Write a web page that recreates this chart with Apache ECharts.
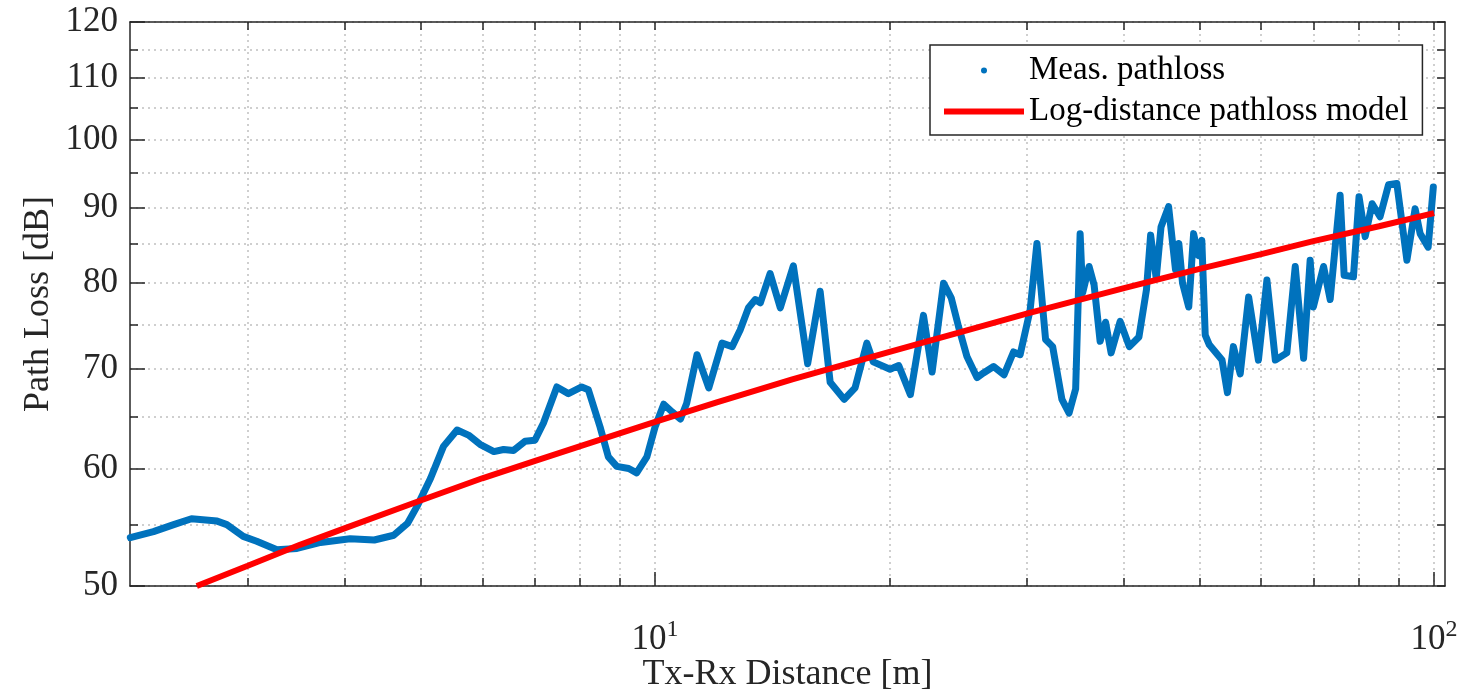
<!DOCTYPE html>
<html>
<head>
<meta charset="utf-8">
<script src="https://cdn.jsdelivr.net/npm/echarts@6/dist/echarts.min.js"></script>
<style>
html,body{margin:0;padding:0;background:#fff;}
#chart{width:1473px;height:692px;}
</style>
</head>
<body>
<div id="chart"></div>
<script>
// ---- data ----
const measDistance = [2.12, 2.27, 2.41, 2.54, 2.74, 2.82, 2.96, 3.08, 3.27, 3.47, 3.72, 4.06, 4.36, 4.62, 4.81, 4.95, 5.15, 5.35, 5.57, 5.76,
  5.96, 6.21, 6.39, 6.58, 6.81, 7.01, 7.19, 7.48, 7.74, 8.05, 8.21, 8.50, 8.71, 8.93, 9.25, 9.47, 9.76, 10.0, 10.26, 10.52,
  10.78, 10.98, 11.32, 11.72, 12.19, 12.56, 12.86, 13.18, 13.45, 13.65, 14.05, 14.48, 15.05, 15.70, 16.29, 16.78, 17.49, 18.06, 18.70, 19.06,
  20.03, 20.55, 21.27, 22.11, 22.68, 23.46, 24.0, 24.52, 25.14, 25.90, 26.40, 27.20, 28.05, 28.85, 29.42, 30.30, 30.92, 31.72, 32.39, 33.29,
  34.0, 34.67, 35.13, 35.39, 36.07, 36.61, 37.27, 37.87, 38.50, 39.54, 40.63, 41.80, 42.74, 43.27, 43.99, 44.62, 45.63, 46.57, 47.03, 47.55,
  48.43, 49.13, 49.83, 50.34, 50.85, 51.47, 53.44, 54.30, 55.26, 56.39, 57.81, 59.51, 61.02, 62.56, 64.72, 66.35, 68.01, 69.34, 70.0, 72.14,
  73.57, 75.76, 76.67, 78.81, 80.12, 81.59, 83.29, 85.26, 87.41, 89.59, 92.30, 94.56, 95.98, 98.28, 99.80];
const measLoss = [53.9, 54.4, 55.0, 55.5, 55.3, 55.0, 54.0, 53.6, 52.9, 53.0, 53.5, 53.8, 53.7, 54.1, 55.1, 56.6, 59.1, 62.1, 63.7, 63.2,
  62.3, 61.6, 61.8, 61.7, 62.6, 62.7, 64.4, 68.1, 67.4, 68.1, 67.8, 64.0, 61.1, 60.2, 60.0, 59.6, 61.1, 64.0, 66.3, 65.5,
  64.8, 66.4, 71.6, 68.0, 72.9, 72.5, 74.4, 77.0, 78.0, 77.6, 81.2, 77.0, 82.2, 70.6, 79.0, 68.6, 66.8, 68.0, 72.9, 70.8,
  70.0, 70.4, 67.3, 76.1, 69.7, 80.0, 78.2, 74.8, 71.4, 69.1, 69.6, 70.3, 69.4, 71.9, 71.6, 76.7, 85.1, 73.3, 72.5, 66.8,
  65.4, 67.9, 86.4, 78.8, 82.1, 79.8, 73.1, 75.3, 71.8, 75.4, 72.5, 73.6, 79.2, 86.2, 80.6, 87.3, 90.1, 81.7, 85.1, 80.0,
  77.1, 86.4, 83.5, 85.5, 73.8, 72.7, 71.0, 67.5, 72.5, 69.5, 78.3, 71.0, 80.4, 71.0, 71.8, 82.1, 71.2, 82.9, 77.1, 82.1,
  78.0, 91.7, 81.0, 80.8, 91.5, 86.0, 90.5, 88.7, 93.2, 93.4, 82.9, 89.8, 86.4, 84.6, 92.9];
const modelDistance = [2.58, 3, 3.5, 4, 5, 6, 7, 8, 10, 12, 15, 20, 25, 30, 40, 50, 60, 70, 85, 100];
const modelLoss = [50.0, 51.6, 53.3, 54.7, 57.1, 59.1, 60.7, 62.1, 64.5, 66.5, 68.9, 71.9, 74.3, 76.3, 79.4, 81.8, 83.7, 85.4, 87.4, 89.2];

const seriesNames = ['Meas. pathloss', 'Log-distance pathloss model'];
const xRange = [2.118, 103.3];
const yRange = [50, 120];
const xAllTicks = [3, 4, 5, 6, 7, 8, 9, 10, 20, 30, 40, 50, 60, 70, 80, 90, 100];
const xMajorTicks = [10, 100];
const xMajorLabels = [['10', '1'], ['10', '2']];
const yAllTicks = [50, 55, 60, 65, 70, 75, 80, 85, 90, 95, 100, 105, 110, 115, 120];
const yMajorTicks = [50, 60, 70, 80, 90, 100, 110, 120];
const yMajorLabels = ['50', '60', '70', '80', '90', '100', '110', '120'];
const axisNames = { x: 'Tx-Rx Distance [m]', y: 'Path Loss [dB]' };

// ---- build ----
const measured = measDistance.map((d, i) => [d, measLoss[i]]);
const model = modelDistance.map((d, i) => [d, modelLoss[i]]);

const FONT = "'Liberation Serif', 'Times New Roman', Times, serif";
const INK = '#262626';
const inkLine = { color: INK, width: 1.5 };
const gridLine = { show: true, lineStyle: { color: '#c0c0c0', width: 1.5, type: [2, 4] } };

function nearestIndex(arr, v) {
  let best = 0;
  arr.forEach((a, i) => { if (Math.abs(Math.log(a) - Math.log(v)) < Math.abs(Math.log(arr[best]) - Math.log(v))) best = i; });
  return best;
}

const baseX = { type: 'log', logBase: 10, min: xRange[0], max: xRange[1], gridIndex: 0 };
const baseY = { type: 'log', logBase: 10, min: yRange[0], max: yRange[1], gridIndex: 0 };

const option = {
  animation: false,
  backgroundColor: '#fff',
  grid: { left: 130, right: 28, top: 22, bottom: 106, containLabel: false, outerBoundsMode: 'none' },
  legend: {
    left: 930, top: 45, orient: 'vertical',
    itemWidth: 80, itemHeight: 6, itemGap: 8, itemTextGap: 4,
    padding: [9, 14, 7, 14],
    borderColor: INK, borderWidth: 1.5, backgroundColor: '#fff',
    textStyle: { fontFamily: FONT, fontSize: 33, color: '#000', lineHeight: 33 },
    data: [
      { name: seriesNames[0], icon: 'circle' },
      { name: seriesNames[1], icon: 'path://M0,0H80V6H0Z' }
    ]
  },
  xAxis: [
    Object.assign({}, baseX, {
      position: 'bottom',
      axisLine: { show: true, onZero: false, lineStyle: inkLine },
      axisTick: { show: true, inside: true, length: 8, customValues: xAllTicks, lineStyle: inkLine },
      axisLabel: { show: false },
      splitLine: gridLine,
      name: axisNames.x, nameLocation: 'middle', nameGap: 71,
      nameTextStyle: { fontFamily: FONT, fontSize: 36, color: INK }
    }),
    Object.assign({}, baseX, {
      position: 'bottom',
      axisLine: { show: false, onZero: false },
      axisTick: { show: true, inside: true, length: 14, customValues: xMajorTicks, lineStyle: inkLine },
      axisLabel: {
        show: true, customValues: xMajorTicks, margin: 32,
        formatter: function (v) {
          const l = xMajorLabels[nearestIndex(xMajorTicks, v)];
          return '{b|' + l[0] + '}{s|' + l[1] + '}';
        },
        rich: {
          b: { fontFamily: FONT, fontSize: 35, color: INK, lineHeight: 44 },
          s: { fontFamily: FONT, fontSize: 24, color: INK, lineHeight: 16, verticalAlign: 'top' }
        }
      },
      splitLine: { show: false }
    }),
    Object.assign({}, baseX, {
      position: 'top',
      axisLine: { show: true, onZero: false, lineStyle: inkLine },
      axisTick: { show: true, inside: true, length: 8, customValues: xAllTicks, lineStyle: inkLine },
      axisLabel: { show: false },
      splitLine: { show: false }
    })
  ],
  yAxis: [
    Object.assign({}, baseY, {
      position: 'left',
      axisLine: { show: true, onZero: false, lineStyle: inkLine },
      axisTick: { show: true, inside: true, length: 8, customValues: yAllTicks, lineStyle: inkLine },
      axisLabel: { show: false },
      splitLine: gridLine,
      name: axisNames.y, nameLocation: 'middle', nameGap: 73,
      nameTextStyle: { fontFamily: FONT, fontSize: 36, color: INK }
    }),
    Object.assign({}, baseY, {
      position: 'left',
      axisLine: { show: false, onZero: false },
      axisTick: { show: true, inside: true, length: 15, customValues: yMajorTicks, lineStyle: inkLine },
      axisLabel: {
        show: true, customValues: yMajorTicks, margin: 12,
        fontFamily: FONT, fontSize: 35, color: INK,
        formatter: function (v) { return yMajorLabels[nearestIndex(yMajorTicks, v)]; }
      },
      splitLine: { show: false }
    }),
    Object.assign({}, baseY, {
      position: 'right',
      axisLine: { show: true, onZero: false, lineStyle: inkLine },
      axisTick: { show: true, inside: true, length: 8, customValues: yAllTicks, lineStyle: inkLine },
      axisLabel: { show: false },
      splitLine: { show: false }
    })
  ],
  series: [
    {
      name: seriesNames[0], type: 'line', xAxisIndex: 0, yAxisIndex: 0,
      data: measured, showSymbol: false, symbol: 'circle',
      itemStyle: { color: '#0072BD' },
      lineStyle: { color: '#0072BD', width: 7, join: 'round', cap: 'round' },
      clip: true, z: 2
    },
    {
      name: seriesNames[1], type: 'line', xAxisIndex: 0, yAxisIndex: 0,
      data: model, showSymbol: false, symbol: 'none',
      itemStyle: { color: '#FF0000' },
      lineStyle: { color: '#FF0000', width: 6 },
      clip: true, z: 3
    }
  ]
};

const chart = echarts.init(document.getElementById('chart'), null, { renderer: 'canvas' });
chart.setOption(option);
</script>
</body>
</html>
